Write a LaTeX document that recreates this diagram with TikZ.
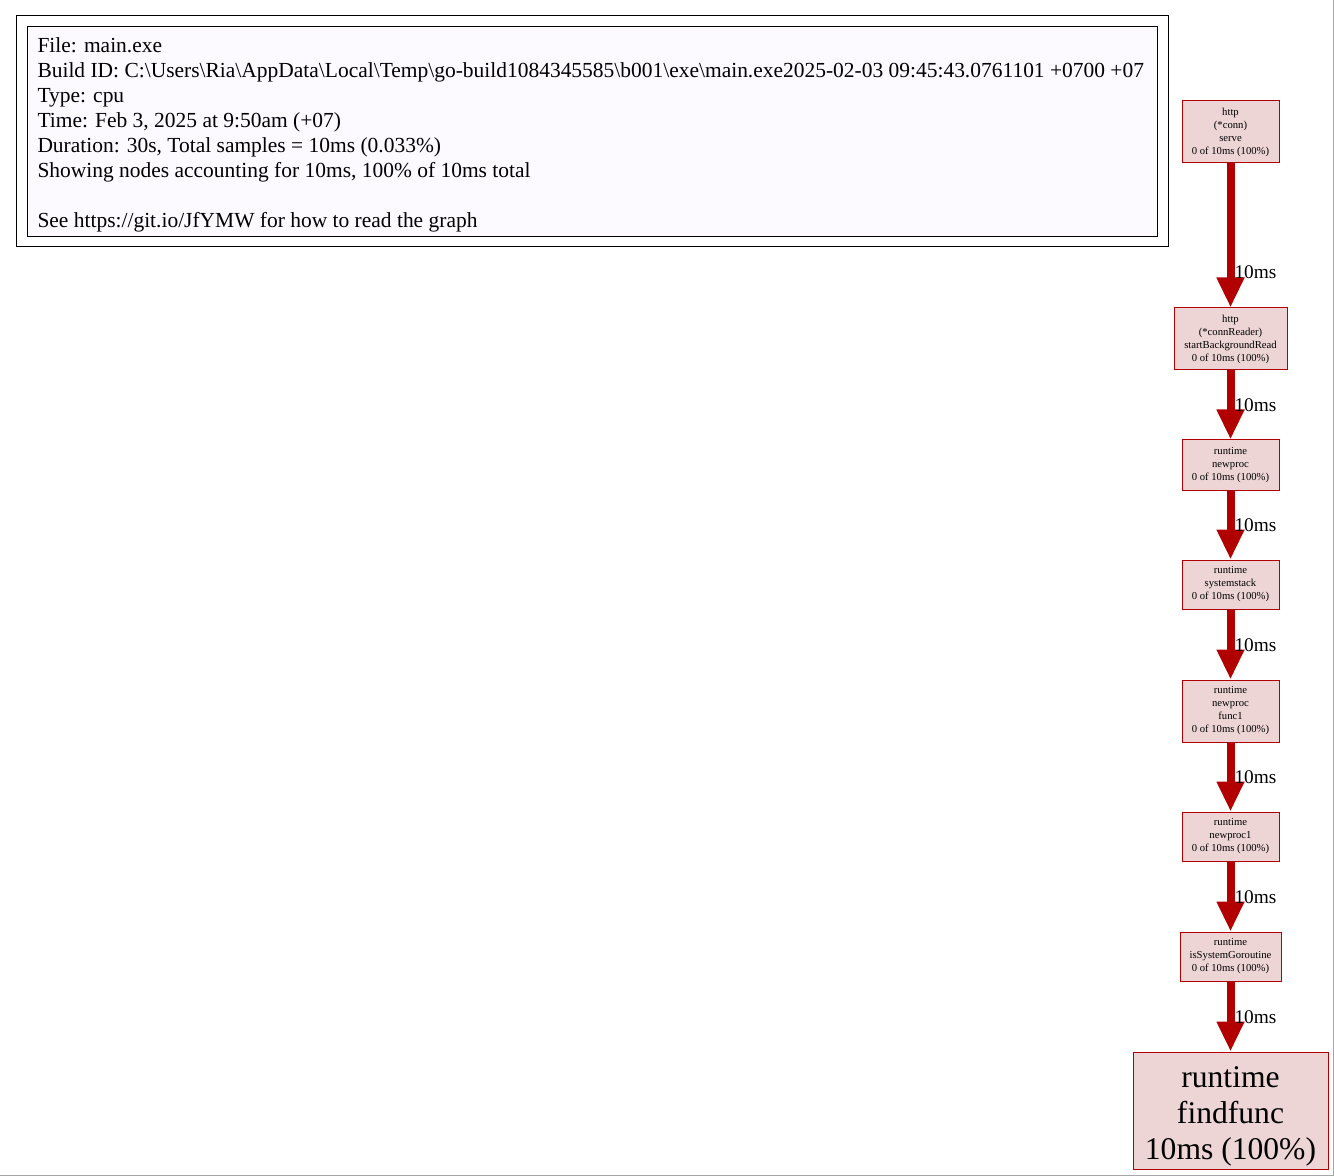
\documentclass[tikz,border=0pt]{standalone}
\usepackage{fontspec}
\setmainfont{Liberation Serif}
\usetikzlibrary{arrows.meta}

\definecolor{edgered}{HTML}{B20000}
\definecolor{nodefill}{HTML}{EDD5D5}
\definecolor{legendfill}{HTML}{FCF9FF}

\tikzset{every picture/.style={line width=0.75pt}}
\tikzset{
  fnbox/.style={draw=edgered, fill=nodefill, inner sep=0pt, align=center, font=\fontsize{8}{9.75}\selectfont},
  flow/.style={draw=edgered, line width=6pt, -{Triangle[length=22.5pt,width=19.5pt]}},
  flowlbl/.style={anchor=west, inner sep=0.75pt, font=\fontsize{14.5}{16}\selectfont},
}

\begin{document}
\begin{tikzpicture}[x=0.75pt,y=0.75pt,yscale=-1,xscale=1]
	\useasboundingbox (0,0) rectangle (1334,1176);
	\fill[white] (0,0) rectangle (1334,1176);
	\draw[gray!70] (0,1175.5) -- (1333.5,1175.5) -- (1333.5,0);
	
	%Shape: Rectangle [legend]
	\draw   (16,16) -- (1168,16) -- (1168,247) -- (16,247) -- cycle ;
	\draw [fill=legendfill]  (27,27) -- (1157,27) -- (1157,237) -- (27,237) -- cycle ;
	% Text Node
	\node (legend) [anchor=north west, inner sep=0pt, align=left, font=\fontsize{16.1}{18.75}\selectfont] at (37,37)
	{File: main.exe\\
	 Build ID: C:\textbackslash Users\textbackslash Ria\textbackslash AppData\textbackslash Local\textbackslash Temp\textbackslash go-build1084345585\textbackslash b001\textbackslash exe\textbackslash main.exe2025-02-03 09:45:43.0761101 +0700 +07\\
	 Type: cpu\\
	 Time: Feb 3, 2025 at 9:50am (+07)\\
	 Duration: 30s, Total samples = 10ms (0.033\%)\\
	 Showing nodes accounting for 10ms, 100\% of 10ms total\\
	 ~\\
	 See https://git.io/JfYMW for how to read the graph};
	
	% Call graph nodes
	\node (serve) [fnbox, minimum width=72.75pt, minimum height=46.5pt] at (1230.5,132) {http\\(*conn)\\serve\\0 of 10ms (100\%)};
	\node (bgread) [fnbox, minimum width=84.75pt, minimum height=46.5pt] at (1230.5,339) {http\\(*connReader)\\startBackgroundRead\\0 of 10ms (100\%)};
	\node (newproc) [fnbox, minimum width=72.75pt, minimum height=37.5pt] at (1230.5,465) {runtime\\newproc\\0 of 10ms (100\%)};
	\node (sysstack) [fnbox, minimum width=72.75pt, minimum height=36.75pt] at (1230.5,584.5) {runtime\\systemstack\\0 of 10ms (100\%)};
	\node (func1) [fnbox, minimum width=72.75pt, minimum height=46.5pt] at (1230.5,711) {runtime\\newproc\\func1\\0 of 10ms (100\%)};
	\node (newproc1) [fnbox, minimum width=72.75pt, minimum height=36.75pt] at (1230.5,836.5) {runtime\\newproc1\\0 of 10ms (100\%)};
	\node (isgor) [fnbox, minimum width=75.75pt, minimum height=36.75pt] at (1230.5,956.5) {runtime\\isSystemGoroutine\\0 of 10ms (100\%)};
	\node (findfunc) [fnbox, minimum width=146.25pt, minimum height=87.75pt, font=\fontsize{23.7}{27}\selectfont] at (1230.5,1110.5) {\rule{0pt}{25pt}runtime\\findfunc\\10ms (100\%)};
	
	% Edges
	\draw [flow] (serve.south) -- (bgread.north);
	\draw [flow] (bgread.south) -- (newproc.north);
	\draw [flow] (newproc.south) -- (sysstack.north);
	\draw [flow] (sysstack.south) -- (func1.north);
	\draw [flow] (func1.south) -- (newproc1.north);
	\draw [flow] (newproc1.south) -- (isgor.north);
	\draw [flow] (isgor.south) -- (findfunc.north);
	
	% Edge labels
	\node (l1) [flowlbl] at (1233,272) {10ms};
	\node (l2) [flowlbl] at (1233,405) {10ms};
	\node (l3) [flowlbl] at (1233,525) {10ms};
	\node (l4) [flowlbl] at (1233,645) {10ms};
	\node (l5) [flowlbl] at (1233,777) {10ms};
	\node (l6) [flowlbl] at (1233,897) {10ms};
	\node (l7) [flowlbl] at (1233,1017) {10ms};
\end{tikzpicture}
\end{document}
